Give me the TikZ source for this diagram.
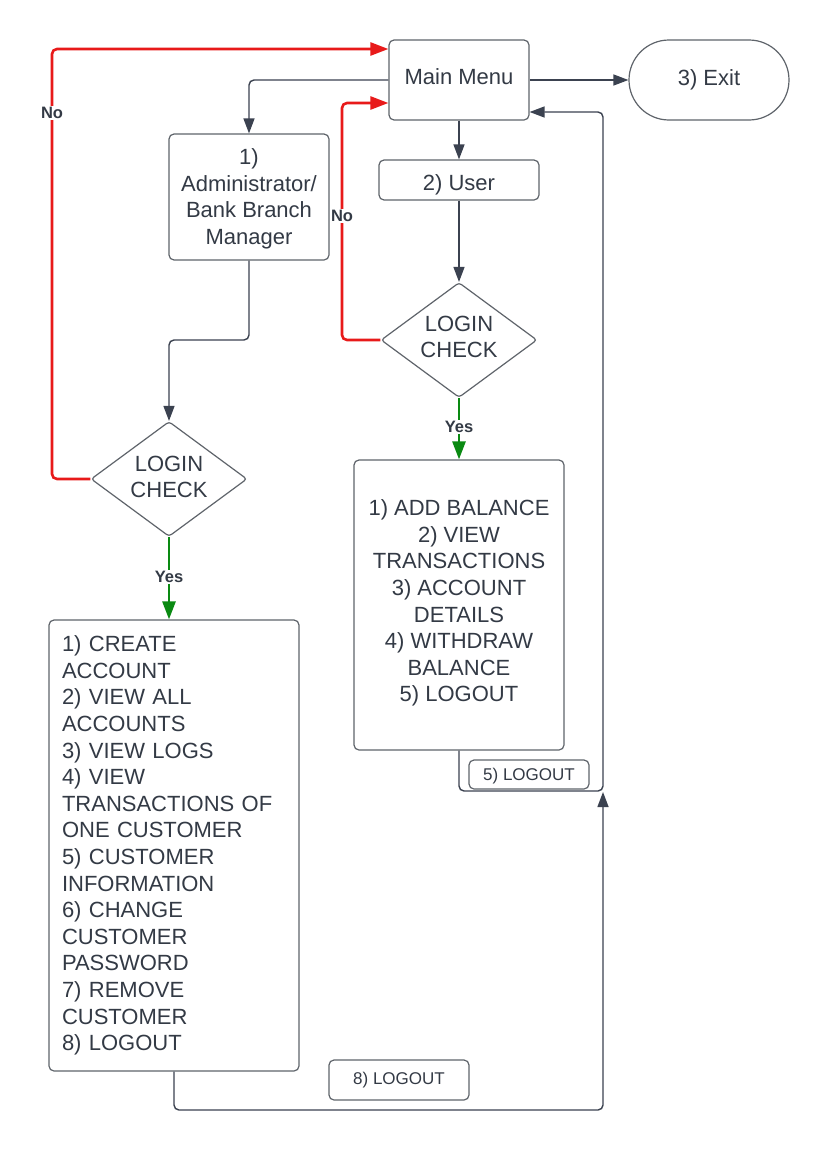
\documentclass[tikz,border=0pt]{standalone}
\usepackage{fontspec}
\setmainfont{Liberation Sans}
\usetikzlibrary{arrows.meta,shapes.geometric}
\definecolor{txt}{HTML}{333A45}
\definecolor{bord}{HTML}{5F646B}
\definecolor{lin}{HTML}{3B4250}
\definecolor{redl}{HTML}{E81A1A}
\definecolor{grn}{HTML}{0A8A12}
\tikzset{
  box/.style={draw=bord, line width=1.2pt, rounded corners=5pt, text=txt,
    font=\fontsize{22}{26.6}\selectfont, inner sep=0pt, align=center},
  boxtext/.style={text=txt, font=\fontsize{22}{26.6}\selectfont, inner sep=0pt, align=center},
  smalltext/.style={boxtext, font=\fontsize{17}{20}\selectfont},
  dia/.style={draw=bord, line width=1.2pt, diamond, rounded corners=3pt,
    inner sep=0pt, aspect=1.36},
  conn/.style={draw=lin, line width=1.4pt, rounded corners=5pt,
    -{Triangle[length=15pt,width=11pt]}},
  redc/.style={draw=redl, line width=2.6pt, rounded corners=5pt,
    -{Triangle[length=18pt,width=13pt]}},
  grnc/.style={draw=grn, line width=2.6pt,
    -{Triangle[length=18pt,width=13pt]}},
  lbl/.style={fill=white, text=txt, font=\fontsize{16.5}{18}\selectfont\bfseries, inner sep=1.5pt}
}
\begin{document}
\begin{tikzpicture}[x=1pt,y=-1pt]
\useasboundingbox (0,0) rectangle (829,1151);
\fill[white] (0,0) rectangle (829,1151);

% shapes
\node[box, minimum width=140pt, minimum height=80pt] (main) at (459,80) {};
\node[box, rounded corners=40pt, minimum width=160pt, minimum height=80pt] (exit) at (709,80) {};
\node[box, minimum width=160pt, minimum height=40pt] (user) at (459,180) {};
\node[box, minimum width=160pt, minimum height=126pt] (admin) at (249,197) {};
\node[dia, minimum width=156pt, minimum height=115pt] (d1) at (169,479) {};
\node[dia, minimum width=156pt, minimum height=115pt] (d2) at (459,340) {};
\node[box, minimum width=210pt, minimum height=290pt] (ul) at (459,605) {};
\node[box, align=left, text width=224pt, inner xsep=13pt, minimum height=451pt] (al) at (174,845.5)
  {1) CREATE\\ACCOUNT\\2) VIEW ALL\\ACCOUNTS\\3) VIEW LOGS\\4) VIEW\\TRANSACTIONS OF\\ONE CUSTOMER\\5) CUSTOMER\\INFORMATION\\6) CHANGE\\CUSTOMER\\PASSWORD\\7) REMOVE\\CUSTOMER\\8) LOGOUT};
\node[box, minimum width=120pt, minimum height=29pt] (lo5) at (529,774.5) {};
\node[box, minimum width=140pt, minimum height=40pt] (lo8) at (399,1080) {};

% texts of the shapes
\node[boxtext] (mainT) at ([yshift=3pt]main.center) {Main Menu};
\node[boxtext] (exitT) at (exit.center) {3) Exit};
\node[boxtext] (userT) at ([yshift=-5pt]user.center) {2) User};
\node[boxtext] (adminT) at ([yshift=-2pt]admin.center) {1)\\Administrator/\\Bank Branch\\Manager};
\node[boxtext] (d1T) at ([yshift=2pt]d1.center) {LOGIN\\CHECK};
\node[boxtext] (d2T) at ([yshift=3pt]d2.center) {LOGIN\\CHECK};
\node[boxtext] (ulT) at ([yshift=2pt]ul.center)
  {1) ADD BALANCE\\2) VIEW\\TRANSACTIONS\\3) ACCOUNT\\DETAILS\\4) WITHDRAW\\BALANCE\\5) LOGOUT};
\node[smalltext] (lo5T) at ([yshift=-2pt]lo5.center) {5) LOGOUT};
\node[smalltext] (lo8T) at (lo8.center) {8) LOGOUT};

% coordinates for bends
\coordinate (r1) at (52,49);
\coordinate (r2) at (342,103);
\coordinate (ret) at (603,112);
\coordinate (uj) at (459,791);
\coordinate (aj) at (603,1110);
\coordinate (aj2) at (603,792);
\coordinate (ab) at (249,340);

% grey connectors
\draw[conn] (main.west) -| (admin.north);
\draw[conn] (main.east) -- (exit.west);
\draw[conn] (main.south) -- (user.north);
\draw[conn] (user.south) -- (d2.north);
\draw[conn] (admin.south) -- (ab) -| (d1.north);
\draw[conn] (ul.south) -- (uj) -| (ret) -- (main.east |- ret);
\draw[conn] (al.south) |- (aj) -- (aj2);

% red "No" connectors
\draw[redc] (d1.west) -| (r1) -- (main.west |- r1);
\node[lbl] (no1) at (52,113) {No};
\draw[redc] (d2.west) -| (r2) -- (main.west |- r2);
\node[lbl] (no2) at (342,216) {No};

% green "Yes" connectors
\draw[grnc] (d1.south) -- (d1.south |- al.north);
\node[lbl] (yes1) at (169,577) {Yes};
\draw[grnc] (d2.south) -- (ul.north);
\node[lbl] (yes2) at (459,427) {Yes};
\end{tikzpicture}
\end{document}
